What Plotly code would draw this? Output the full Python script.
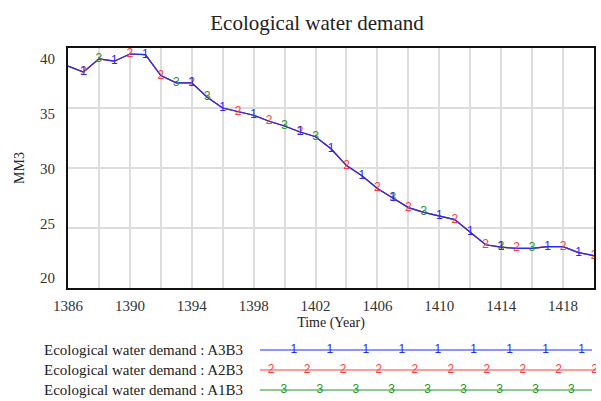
import plotly.graph_objects as go

# ---------------- data ----------------
years = list(range(1386, 1421))
demand_A3B3 = [38.5, 38.0, 39.1, 38.9, 39.5, 39.45, 37.7, 37.1, 37.1, 35.9,
               35.0, 34.7, 34.4, 33.9, 33.5, 33.0, 32.6, 31.6, 30.2, 29.35,
               28.3, 27.5, 26.7, 26.3, 26.0, 25.7, 24.65, 23.6, 23.4, 23.3,
               23.3, 23.45, 23.45, 22.95, 22.7]
demand_A2B3 = list(demand_A3B3)
demand_A1B3 = list(demand_A3B3)

marks_A3B3 = [1387, 1389, 1391, 1394, 1396, 1398, 1401, 1403, 1405, 1407, 1410, 1412, 1414, 1417, 1419]
marks_A2B3 = [1387, 1390, 1392, 1394, 1397, 1399, 1401, 1404, 1406, 1408, 1411, 1413, 1415, 1418, 1420]
marks_A1B3 = [1388, 1393, 1395, 1400, 1402, 1407, 1409, 1414, 1416]

x_ticks = [1386, 1390, 1394, 1398, 1402, 1406, 1410, 1414, 1418]
y_ticks = [20, 25, 30, 35, 40]

series_names = ["Ecological water demand : A3B3",
                "Ecological water demand : A2B3",
                "Ecological water demand : A1B3"]

# ---------------- style ----------------
C_BLUE = "rgb(40,40,255)"
C_RED = "rgb(255,60,60)"
C_GREEN = "rgb(40,150,40)"
SERIF = "Liberation Serif, Times New Roman, serif"
SANS = "Liberation Sans, Arial, sans-serif"

series = [
    (demand_A1B3, marks_A1B3, "3", C_GREEN),
    (demand_A2B3, marks_A2B3, "2", C_RED),
    (demand_A3B3, marks_A3B3, "1", C_BLUE),
]

fig = go.Figure()

# lines
for vals, marks, lab, col in series:
    fig.add_trace(go.Scatter(x=years, y=vals, mode="lines",
                             line=dict(color=col, width=1.2),
                             showlegend=False, hoverinfo="skip"))
# numbered markers
for vals, marks, lab, col in series:
    mx = [y for y in years if y in marks]
    my = [v for y, v in zip(years, vals) if y in marks]
    fig.add_trace(go.Scatter(x=mx, y=my, mode="text", text=[lab] * len(mx),
                             textposition="middle center",
                             textfont=dict(family=SANS, size=12, color=col),
                             showlegend=False, hoverinfo="skip"))

# invisible trace carrying the label-only y axis (Vensim-style label spread)
fig.add_trace(go.Scatter(x=years, y=demand_A3B3, yaxis="y3", mode="lines",
                         line=dict(width=0), opacity=0,
                         showlegend=False, hoverinfo="skip"))

# custom legend (Vensim style) drawn in a separate small axes
legend_rows = [
    (2, series_names[0], C_BLUE, "1", 0.101, 9),
    (1, series_names[1], C_RED, "2", 0.033, 10),
    (0, series_names[2], C_GREEN, "3", 0.071, 9),
]
step = 0.107
for row, name, col, lab, phase, n in legend_rows:
    end = 1.0 if lab == "2" else 0.988
    fig.add_trace(go.Scatter(x=[0, end], y=[row, row], xaxis="x2", yaxis="y2",
                             mode="lines", line=dict(color=col, width=1.2),
                             showlegend=False, hoverinfo="skip"))
    px = [phase + step * k for k in range(n)]
    fig.add_trace(go.Scatter(x=px, y=[row] * n, xaxis="x2", yaxis="y2",
                             mode="text", text=[lab] * n,
                             textposition="middle center",
                             textfont=dict(family=SANS, size=12, color=col),
                             showlegend=False, hoverinfo="skip"))
    fig.add_annotation(x=0.335, xref="paper", y=row, yref="y2",
                       text=name, showarrow=False, xanchor="right",
                       font=dict(family=SERIF, size=15, color="#222"))

fig.update_layout(
    width=601, height=401,
    margin=dict(l=68, r=5, t=48, b=0, autoexpand=False),
    paper_bgcolor="white", plot_bgcolor="white",
    title=dict(text="Ecological water demand", x=317 / 601, xref="container",
               xanchor="center", y=1 - 23 / 401, yref="container", yanchor="middle",
               font=dict(family=SERIF, size=21, color="#222")),
    xaxis=dict(domain=[0, 0.9962], range=[1386, 1420], tickvals=x_ticks,
               showgrid=True, gridcolor="#dddddd", gridwidth=1.5,
               minor=dict(dtick=2, tick0=1386, showgrid=True, gridcolor="#dddddd", gridwidth=1.5),
               showline=True, linecolor="#111", linewidth=2, mirror=True,
               ticks="", zeroline=False, ticklabelstandoff=3, automargin=False,
               tickfont=dict(family=SERIF, size=15, color="#333"),
               title=dict(text="Time (Year)", standoff=4,
                          font=dict(family=SERIF, size=14, color="#222"))),
    yaxis=dict(domain=[0.3201, 1], range=[20, 40], tickvals=[25, 30, 35],
               showgrid=True, gridcolor="#dddddd", gridwidth=1.5,
               showline=True, linecolor="#111", linewidth=2, mirror=True,
               showticklabels=False, ticks="", zeroline=False, automargin=False,
               title=dict(text="")),
    yaxis3=dict(overlaying="y", anchor="x", side="left", range=[19.087, 41.005],
                tickvals=y_ticks, showgrid=False, zeroline=False, showline=False,
                ticks="", ticklabelstandoff=12, automargin=False,
                tickfont=dict(family=SERIF, size=15, color="#333"),
                title=dict(text="MM3", standoff=12,
                           font=dict(family=SERIF, size=14, color="#222"))),
    xaxis2=dict(domain=[0.3636, 1], range=[0, 1], anchor="y2", visible=False),
    yaxis2=dict(domain=[0, 0.1728], range=[-0.55, 2.5], anchor="x2", visible=False),
)

fig.write_html("out.html", config={"displayModeBar": False},
               post_script="document.body.style.margin='0';document.body.style.overflow='hidden';")
